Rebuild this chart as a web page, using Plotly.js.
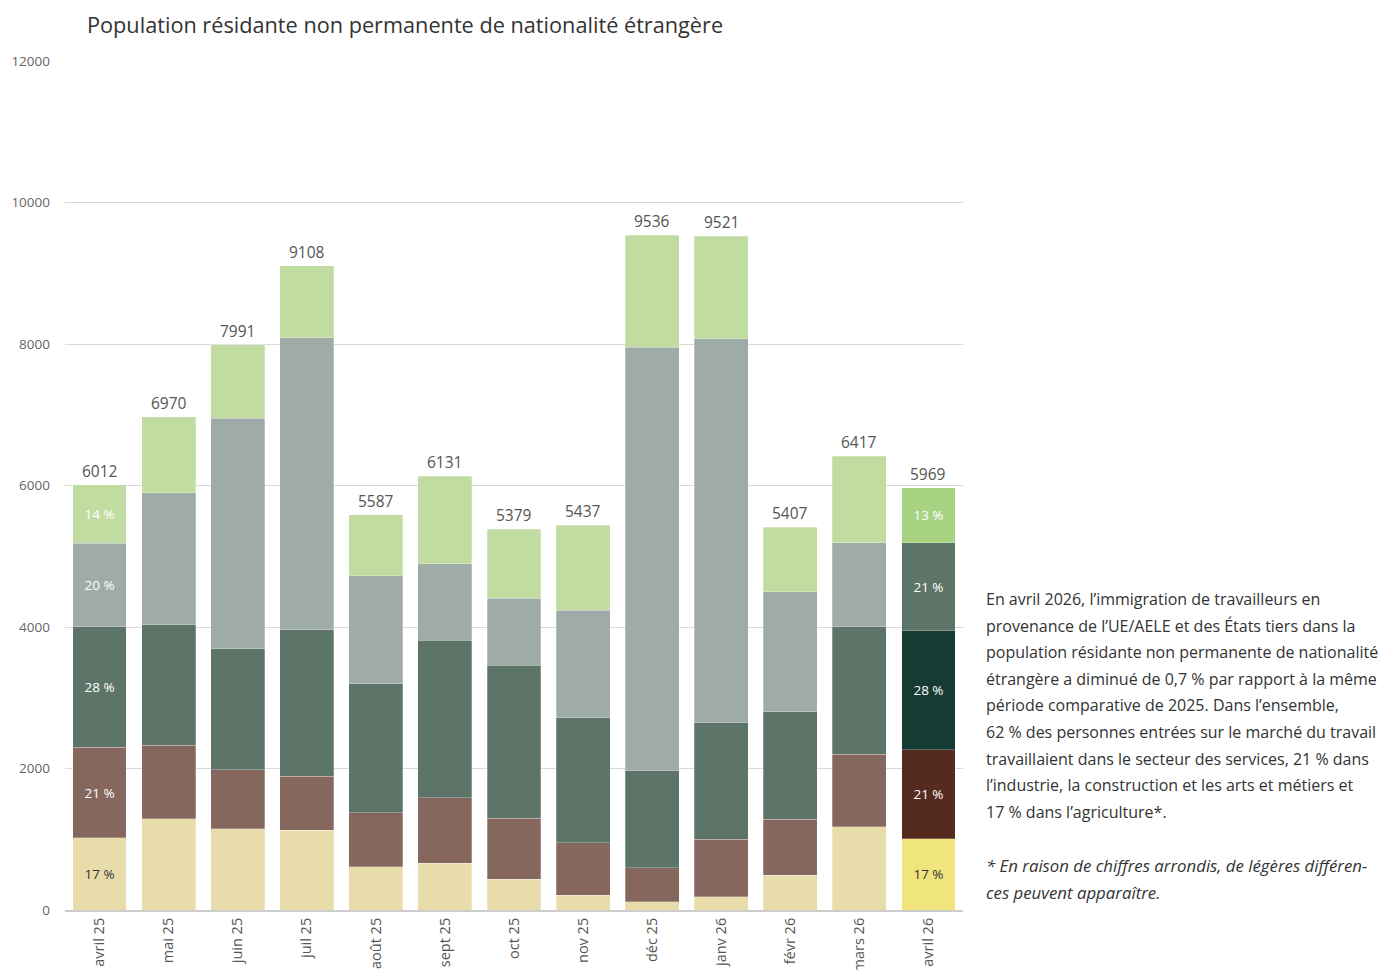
<!DOCTYPE html>
<html>
<head>
<meta charset="utf-8">
<script src="https://cdn.plot.ly/plotly-3.0.1.min.js"></script>
<style>html,body{margin:0;padding:0;background:#fff;}#chart{width:1387px;height:970px;}</style>
</head>
<body>
<div id="chart"></div>
<script>
// ---- data ----
const months = ["avril 25","mai 25","juin 25","juil 25","août 25","sept 25","oct 25","nov 25","déc 25","janv 26","févr 26","mars 26","avril 26"];
const agriculture = [1018,1291,1147,1124,614,661,434,208,115,186,494,1178,1007];
const industrie   = [1282,1037,837,764,760,925,864,741,481,814,788,1021,1261];
const services1   = [1706,1702,1707,2071,1822,2229,2162,1766,1372,1647,1519,1806,1678];
const services2   = [1181,1865,3263,4126,1530,1076,949,1520,5987,5430,1699,1187,1246];
const services3   = [825,1075,1037,1023,861,1240,970,1202,1581,1444,907,1225,777];
const labelledBars = ["avril 25","avril 26"];
const yTicks = [0,2000,4000,6000,8000,10000,12000];

const paragraph = [
  "En avril 2026, l’immigration de travailleurs en",
  "provenance de l’UE/AELE et des États tiers dans la",
  "population résidante non permanente de nationalité",
  "étrangère a diminué de 0,7 % par rapport à la même",
  "période comparative de 2025. Dans l’ensemble,",
  "62 % des personnes entrées sur le marché du travail",
  "travaillaient dans le secteur des services, 21 % dans",
  "l’industrie, la construction et les arts et métiers et",
  "17 % dans l’agriculture*."
];
const footnote = [
  "* En raison de chiffres arrondis, de légères différen-",
  "ces peuvent apparaître."
];

// ---- build ----
const series = [agriculture, industrie, services1, services2, services3];
const names = ["Agriculture","Industrie, construction, arts et métiers","Services A","Services B","Services C"];
const baseColors = ["#e8dcab","#85675d","#5d7469","#9eaba7","#c1dca1"];
const lastColors = ["#efe57c","#552a1f","#163b33","#5d7469","#a8d383"];
const textColors = ["#333333","#ffffff","#ffffff","#ffffff","#ffffff"];
const totals = months.map((m,i)=>series.reduce((s,a)=>s+a[i],0));

const FONT = "Open Sans, Noto Sans, sans-serif";
const traces = series.map((vals,k)=>({
  type:'bar', name:names[k], x:months, y:vals,
  marker:{color:months.map((m,i)=> i===months.length-1 ? lastColors[k] : baseColors[k]),
          line:{width:0.6,color:'rgba(255,255,255,0.45)'}},
  text:months.map((m,i)=> labelledBars.includes(m) ? Math.round(vals[i]/totals[i]*100)+' %' : ''),
  textposition:'inside', insidetextanchor:'middle', textangle:0, constraintext:'none',
  textfont:{family:FONT,size:13.5,color:textColors[k]},
  hoverinfo:'x+y+name', showlegend:false
}));

const PL=65, PT=61, PW=898, PH=849;
const annotations = [];
months.forEach((m,i)=>annotations.push({
  x:m, y:totals[i], xref:'x', yref:'y', text:String(totals[i]), showarrow:false,
  xanchor:'center', yanchor:'bottom', yshift:1, font:{family:FONT,size:15.5,color:'#555555'}
}));
paragraph.forEach((t,i)=>annotations.push({
  xref:'paper', yref:'paper', x:(984-PL)/PW, y:1-((599+i*26.6)-PT)/PH, xanchor:'left', yanchor:'middle',
  text:t, showarrow:false, align:'left', font:{family:FONT,size:16,color:'#333333'}
}));
footnote.forEach((t,i)=>annotations.push({
  xref:'paper', yref:'paper', x:(984-PL)/PW, y:1-((865+i*27)-PT)/PH, xanchor:'left', yanchor:'middle',
  text:'<i>'+t+'</i>', showarrow:false, align:'left', font:{family:FONT,size:16.8,color:'#333333'}
}));

const layout = {
  width:1387, height:970,
  margin:{l:PL, r:1387-PL-PW, t:PT, b:970-PT-PH, autoexpand:false},
  paper_bgcolor:'#ffffff', plot_bgcolor:'#ffffff',
  barmode:'stack', bargap:0.22,
  title:{text:'Population résidante non permanente de nationalité étrangère',
         xref:'container', yref:'container', x:87/1387, xanchor:'left', y:1-25/970, yanchor:'middle',
         font:{family:FONT,size:21.7,color:'#333333'}},
  xaxis:{type:'category', range:[-0.5, months.length-0.5], tickangle:-90,
         tickfont:{family:FONT,size:14.5,color:'#555555'},
         showgrid:false, showline:true, linecolor:'#cccccc', linewidth:2, ticks:'', automargin:false,
         fixedrange:true},
  yaxis:{range:[0,12000], tickvals:yTicks, ticktext:yTicks.map(String),
         tickfont:{family:FONT,size:13.5,color:'#666666'}, gridcolor:'#d9d9d9', gridwidth:1,
         zeroline:false, showline:false, ticks:'', ticklabelstandoff:14, automargin:false, fixedrange:true},
  annotations:annotations,
  font:{family:FONT}
};
Plotly.newPlot('chart', traces, layout, {displayModeBar:false, staticPlot:true});
</script>
</body>
</html>
